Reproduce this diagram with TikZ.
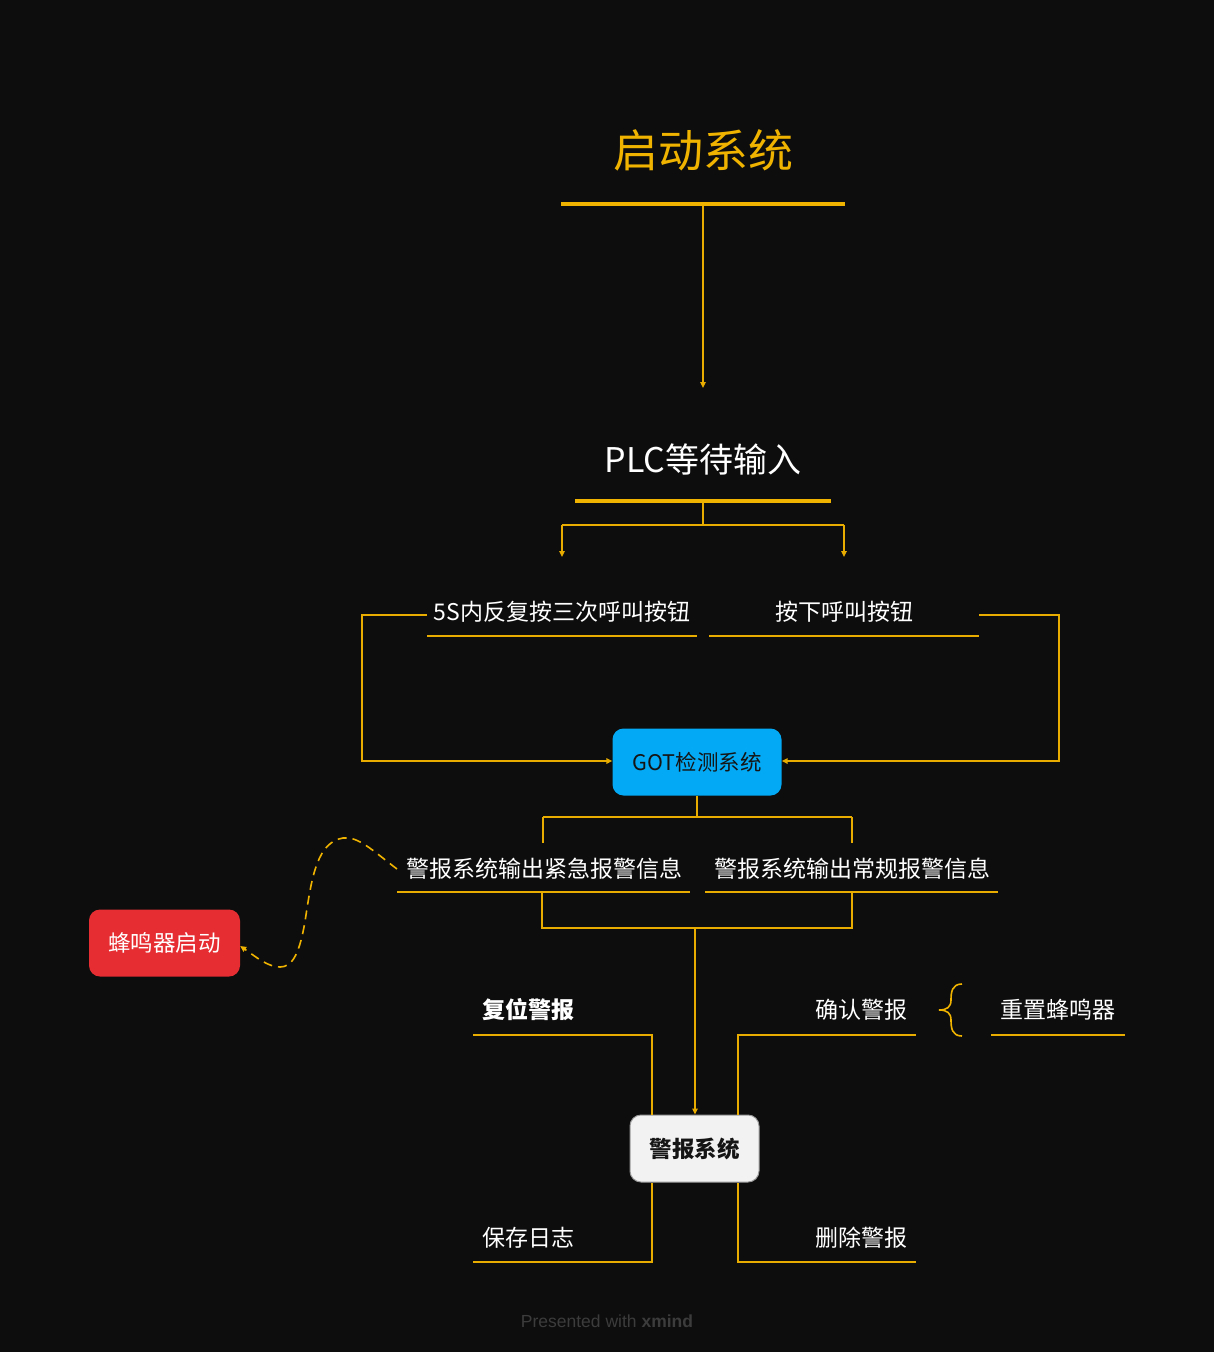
\documentclass[tikz,border=0pt]{standalone}
\usepackage{fontspec}
\setmainfont{Liberation Sans}
\newfontfamily\cjk{Noto Sans CJK SC}
\usetikzlibrary{arrows.meta}
\definecolor{bgc}{HTML}{0D0D0D}
\definecolor{ylw}{HTML}{F0B400}
\definecolor{lny}{HTML}{E8AC00}
\definecolor{gotblue}{HTML}{03A9F4}
\definecolor{buzred}{HTML}{E52D32}
\definecolor{boxw}{HTML}{F2F2F2}
\definecolor{boxbd}{HTML}{9A9A9A}
\definecolor{foot}{HTML}{3C3C3C}
\definecolor{dark}{HTML}{151515}
\begin{document}
\begin{tikzpicture}[x=1pt,y=-1pt,
  lbl/.style={font=\cjk\fontsize{23}{23}\selectfont, text=white, inner sep=0pt},
  ln/.style={draw=lny, line width=1.8pt},
  thick ul/.style={draw=ylw, line width=4.5pt},
  arr/.style={-{Triangle[length=6pt,width=5.5pt]}},
  rbox/.style={rounded corners=11pt, inner sep=0pt, minimum height=67pt}
]
\fill[bgc] (0,0) rectangle (1214,1352);
\useasboundingbox (0,0) rectangle (1214,1352);

% title
\node[lbl, text=ylw, font=\cjk\fontsize{45}{45}\selectfont] (title) at (703,150) {启动系统};
\coordinate (tul1) at (561,204);
\coordinate (tul2) at (845,204);
\coordinate (tulm) at (703,206);
\draw[thick ul] (tul1) -- (tul2);

% PLC
\node[lbl, font=\cjk\fontsize{34}{34}\selectfont] (plc) at (703,459) {PLC等待输入};
\coordinate (plcarr) at (703,388);
\draw[ln, line width=1.5pt, arr] (tulm) -- (plcarr);
\coordinate (pul1) at (575,501);
\coordinate (pul2) at (831,501);
\coordinate (pulm) at (703,503);
\draw[thick ul, line width=4pt] (pul1) -- (pul2);
\coordinate (psplit) at (703,525);
\coordinate (pl) at (562,525);
\coordinate (pr) at (844,525);
\coordinate (plend) at (562,557);
\coordinate (prend) at (844,557);
\draw[ln] (pulm) -- (psplit);
\draw[ln] (pl) -- (pr);
\draw[ln, arr] (pl) -- (plend);
\draw[ln, arr] (pr) -- (prend);

% buttons
\node[lbl] (b1) at (562,612) {5S内反复按三次呼叫按钮};
\node[lbl] (b2) at (844,612) {按下呼叫按钮};
\coordinate (b1u1) at (427,636);
\coordinate (b1u2) at (697,636);
\coordinate (b2u1) at (709,636);
\coordinate (b2u2) at (979,636);
\draw[ln] (b1u1) -- (b1u2);
\draw[ln] (b2u1) -- (b2u2);

% GOT
\node[rbox, fill=gotblue, minimum width=169pt, font=\cjk\fontsize{21.5}{21.5}\selectfont, text=dark] (got) at (697,762) {GOT检测系统};
\coordinate (l1) at (427,615);
\coordinate (l2) at (362,615);
\coordinate (l3) at (362,761);
\coordinate (r1) at (979,615);
\coordinate (r2) at (1059,615);
\coordinate (r3) at (1059,761);
\draw[ln, arr] (l1) -- (l2) -- (l3) -- (got.west |- l3);
\draw[ln, arr] (r1) -- (r2) -- (r3) -- (got.east |- r3);

% alarm outputs
\coordinate (gsplit) at (697,817);
\coordinate (gl) at (543,817);
\coordinate (gr) at (852,817);
\coordinate (glend) at (543,843);
\coordinate (grend) at (852,843);
\draw[ln] (got.south) -- (gsplit);
\draw[ln] (gl) -- (gr);
\draw[ln] (gl) -- (glend);
\draw[ln] (gr) -- (grend);

\node[lbl] (a1) at (544,869) {警报系统输出紧急报警信息};
\node[lbl] (a2) at (852,869) {警报系统输出常规报警信息};
\coordinate (a1u1) at (397,892);
\coordinate (a1u2) at (690,892);
\coordinate (a2u1) at (705,892);
\coordinate (a2u2) at (998,892);
\draw[ln] (a1u1) -- (a1u2);
\draw[ln] (a2u1) -- (a2u2);
\coordinate (m1) at (542,892);
\coordinate (m1b) at (542,928);
\coordinate (m2) at (852,892);
\coordinate (m2b) at (852,928);
\coordinate (mm) at (695,928);
\draw[ln] (m1) -- (m1b) -- (m2b) -- (m2);

% buzzer
\node[rbox, fill=buzred, minimum width=151pt, font=\cjk\fontsize{22.5}{22.5}\selectfont, text=white] (buz) at (164.5,943) {蜂鸣器启动};
\coordinate (ds) at (397,869);
\draw[draw=ylw, line width=1.6pt, dash pattern=on 9pt off 6pt, arr]
  (ds) .. controls (372,850) and (358,836) .. (343,838)
       .. controls (318,842) and (312,875) .. (306,915)
       .. controls (300,955) and (292,967) .. (280,967)
       .. controls (268,967) and (256,957) .. (buz.east |- 0,946);

% alarm system
\node[rbox, fill=boxw, draw=boxbd, line width=1pt, minimum width=129pt, font=\cjk\bfseries\fontsize{22.5}{22.5}\selectfont, text=dark] (alarm) at (694.5,1148.5) {警报系统};
\draw[ln, arr] (mm) -- (alarm.north -| mm);

% top actions
\node[lbl, font=\cjk\bfseries\fontsize{23}{23}\selectfont] (reset) at (528,1010) {复位警报};
\node[lbl] (ack) at (861,1010) {确认警报};
\node[lbl] (rbuz) at (1058,1010) {重置蜂鸣器};
\coordinate (ru1) at (473,1035);
\coordinate (ru2) at (652,1035);
\coordinate (au1) at (738,1035);
\coordinate (au2) at (916,1035);
\coordinate (zu1) at (991,1035);
\coordinate (zu2) at (1125,1035);
\draw[ln] (ru1) -- (ru2) -- (alarm.north -| ru2);
\draw[ln] (au2) -- (au1) -- (alarm.north -| au1);
\draw[ln] (zu1) -- (zu2);
% brace
\coordinate (brt) at (962,984);
\coordinate (brm) at (939,1010);
\coordinate (brb) at (962,1036);
\draw[draw=ylw, line width=1.6pt]
  (brt) .. controls (952,984) and (951,992) .. (951,1000)
        .. controls (951,1007) and (947,1010) .. (brm)
        .. controls (947,1010) and (951,1013) .. (951,1020)
        .. controls (951,1028) and (952,1036) .. (brb);

% bottom actions
\node[lbl] (log) at (528,1238) {保存日志};
\node[lbl] (del) at (861,1238) {删除警报};
\coordinate (lu1) at (473,1262);
\coordinate (lu2) at (652,1262);
\coordinate (du1) at (738,1262);
\coordinate (du2) at (916,1262);
\draw[ln] (lu1) -- (lu2) -- (alarm.south -| lu2);
\draw[ln] (du2) -- (du1) -- (alarm.south -| du1);

% footer
\node[inner sep=0pt, text=foot, font=\fontsize{17.5}{17.5}\selectfont] (footer) at (607,1321) {Presented with \textbf{xmind}};
\end{tikzpicture}
\end{document}
